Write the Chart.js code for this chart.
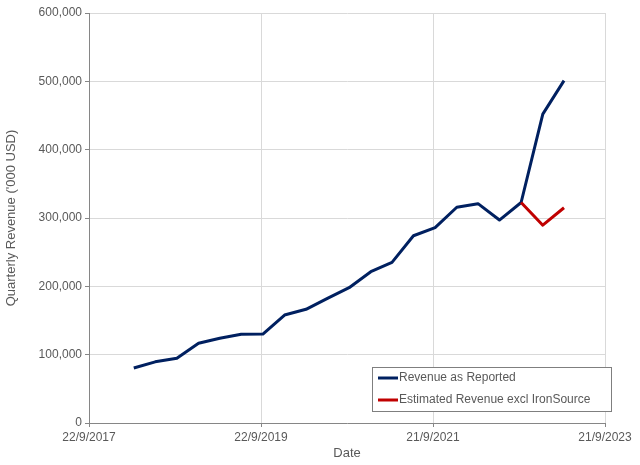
<!DOCTYPE html>
<html>
<head>
<meta charset="utf-8">
<script src="https://cdn.jsdelivr.net/npm/chart.js@4.4.0/dist/chart.umd.min.js"></script>
<style>
    html, body { margin: 0; padding: 0; background: #fff; }
    #wrap { width: 640px; height: 465px; }
</style>
</head>
<body>
<div id="wrap"><canvas id="revenueChart" width="640" height="465"></canvas></div>
<script>
        // Data
        const quarterDates = [
            '2018-03-31', '2018-06-30', '2018-09-30', '2018-12-31',
            '2019-03-31', '2019-06-30', '2019-09-30', '2019-12-31',
            '2020-03-31', '2020-06-30', '2020-09-30', '2020-12-31',
            '2021-03-31', '2021-06-30', '2021-09-30', '2021-12-31',
            '2022-03-31', '2022-06-30', '2022-09-30', '2022-12-31',
            '2023-03-31'
        ];
        const reportedRevenue = [
            80500, 89500, 94700, 116600,
            124000, 129800, 130200, 158000,
            166400, 182500, 198000, 221400,
            235000, 274000, 286000, 315700,
            321000, 297000, 322700, 452000,
            501000
        ];
        const exclDates = ['2022-09-30', '2022-12-31', '2023-03-31'];
        const exclRevenue = [322700, 289500, 315000];
        const xTickDates = ['2017-09-22', '2019-09-22', '2021-09-21', '2023-09-21'];
        const yMin = 0;
        const yMax = 600000;
        const yStep = 100000;

        const seriesLabels = ['Revenue as Reported', 'Estimated Revenue excl IronSource'];
        const seriesColors = ['#002060', '#C00000'];

        const textColor = '#595959';
        const fontFamily = "'Liberation Sans', Arial, sans-serif";

        // date string -> day number
        function toDay(s) {
            const p = s.split('-').map(Number);
            return Date.UTC(p[0], p[1] - 1, p[2]) / 86400000;
        }

        function fmtDay(d) {
            const dt = new Date(Math.round(d) * 86400000);
            return dt.getUTCDate() + '/' + (dt.getUTCMonth() + 1) + '/' + dt.getUTCFullYear();
        }

        const xTicks = xTickDates.map(toDay);

        // Legend box drawn inside the plot, Excel style
        const boxLegend = {
            id: 'boxLegend',
            afterDraw(chart) {
                const ctx = chart.ctx;
                const ds = chart.data.datasets;
                ctx.save();
                ctx.strokeStyle = '#7f7f7f';
                ctx.lineWidth = 1;
                ctx.fillStyle = '#fff';
                ctx.fillRect(372, 367, 239, 44);
                ctx.strokeRect(372.5, 367.5, 239, 44);
                ctx.font = '12px ' + fontFamily;
                ctx.textBaseline = 'middle';
                ds.forEach((d, i) => {
                    const y = 378 + i * 22;
                    ctx.strokeStyle = d.borderColor;
                    ctx.lineWidth = 3;
                    ctx.beginPath();
                    ctx.moveTo(378, y);
                    ctx.lineTo(398, y);
                    ctx.stroke();
                    ctx.fillStyle = textColor;
                    ctx.fillText(d.label, 399, y);
                });
                ctx.restore();
            }
        };

        const ctx = document.getElementById('revenueChart').getContext('2d');

        new Chart(ctx, {
            type: 'line',
            data: {
                datasets: [{
                    label: seriesLabels[0],
                    data: quarterDates.map((d, i) => ({ x: toDay(d), y: reportedRevenue[i] })),
                    borderColor: seriesColors[0],
                    borderWidth: 3,
                    pointRadius: 0,
                    tension: 0,
                    borderJoinStyle: 'round',
                    order: 1
                }, {
                    label: seriesLabels[1],
                    data: exclDates.map((d, i) => ({ x: toDay(d), y: exclRevenue[i] })),
                    borderColor: seriesColors[1],
                    borderWidth: 3,
                    pointRadius: 0,
                    tension: 0,
                    borderJoinStyle: 'round',
                    order: 0
                }]
            },
            options: {
                responsive: false,
                animation: false,
                layout: {
                    padding: { top: 13, right: 35, bottom: 0, left: 0 }
                },
                plugins: {
                    legend: { display: false },
                    tooltip: { enabled: false }
                },
                scales: {
                    x: {
                        type: 'linear',
                        min: xTicks[0],
                        max: xTicks[xTicks.length - 1],
                        afterBuildTicks: scale => {
                            scale.ticks = xTicks.map(v => ({ value: v }));
                        },
                        afterFit: scale => { scale.height = 42; },
                        border: { color: '#868686', width: 1 },
                        grid: {
                            color: '#d9d9d9',
                            tickColor: '#868686',
                            tickLength: 4
                        },
                        ticks: {
                            autoSkip: false,
                            maxRotation: 0,
                            padding: 3,
                            color: textColor,
                            font: { family: fontFamily, size: 12 },
                            callback: v => fmtDay(v)
                        },
                        title: {
                            display: true,
                            text: 'Date',
                            color: textColor,
                            font: { family: fontFamily, size: 13 },
                            padding: { top: 0, bottom: 4 }
                        }
                    },
                    y: {
                        min: yMin,
                        max: yMax,
                        afterFit: scale => { scale.width = 89; },
                        border: { color: '#868686', width: 1 },
                        grid: {
                            color: '#d9d9d9',
                            tickColor: '#868686',
                            tickLength: 4
                        },
                        ticks: {
                            stepSize: yStep,
                            padding: 3,
                            color: textColor,
                            font: { family: fontFamily, size: 12 },
                            callback: v => v.toLocaleString('en-US')
                        },
                        title: {
                            display: true,
                            text: "Quarterly Revenue ('000 USD)",
                            color: textColor,
                            font: { family: fontFamily, size: 13 },
                            padding: { top: 4, bottom: 0 }
                        }
                    }
                }
            },
            plugins: [boxLegend]
        });
</script>
</body>
</html>
